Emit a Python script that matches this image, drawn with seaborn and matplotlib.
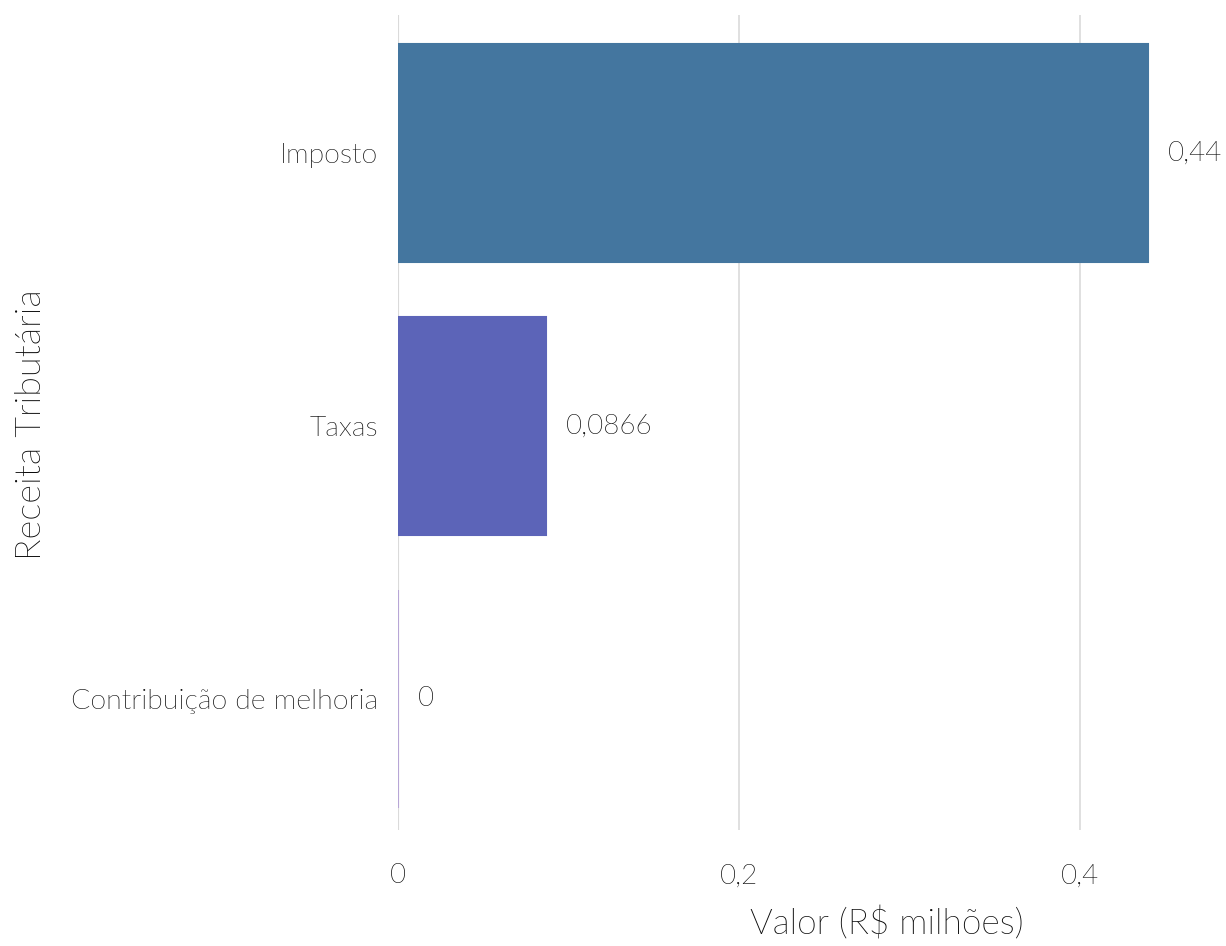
import matplotlib
matplotlib.use("Agg")
import matplotlib.pyplot as plt
from matplotlib import font_manager as fm
import seaborn as sns
import pandas as pd

# dados
categorias = ["Imposto", "Taxas", "Contribuição de melhoria"]
valores = [0.44, 0.0866, 0.0]
rotulos = ["0,44", "0,0866", "0"]
cores = ["#44769f", "#5c64b8", "#b7a6d6"]
ticks_x = [0, 0.2, 0.4]
ticks_x_txt = ["0", "0,2", "0,4"]

df = pd.DataFrame({"receita": categorias, "valor": valores})

sns.set_theme(style="white")
plt.rcParams["font.family"] = ["Lato", "DejaVu Sans"]

# procura o arquivo do Lato Light
arq_light = None
for f in fm.fontManager.ttflist:
    nome = f.fname.lower()
    if "lato" in nome and "light" in nome and "italic" not in nome:
        arq_light = f.fname
        break
if arq_light:
    fonte = fm.FontProperties(fname=arq_light)
else:
    fonte = fm.FontProperties(family="Lato", weight="normal")

def fp(tam):
    p = fonte.copy()
    p.set_size(tam)
    return p

cor_txt = "#0a0a0a"

fig = plt.figure(figsize=(12.26, 9.46), dpi=100)
ax = fig.add_axes([398 / 1226, 1 - 830 / 946, (1226 - 398) / 1226, (830 - 15) / 946])

sns.barplot(data=df, y="receita", x="valor", hue="receita", palette=cores,
            order=categorias, width=0.8, legend=False, ax=ax, saturation=1)

for p, c in zip(ax.patches, cores):
    p.set_edgecolor(c)
    p.set_linewidth(1.5)

ax.set_xlim(0, (1226 - 398) / 1705)
ax.set_ylim(2.48, -0.505)
ax.set_xticks(ticks_x)
ax.set_xticklabels(ticks_x_txt, fontproperties=fp(20), color=cor_txt)
ax.set_yticks(range(len(categorias)))
ax.set_yticklabels(categorias, fontproperties=fp(20.5), color=cor_txt)
ax.grid(axis="x", color="#dddddd", linewidth=1.3)
ax.grid(axis="y", visible=False)
ax.axvline(0, color="#c8c8c8", linewidth=1.5, zorder=0.5)
for s in ax.spines.values():
    s.set_visible(False)

ax.tick_params(axis="x", pad=24, length=0)
ax.tick_params(axis="y", pad=14, length=0)

for i, (v, t) in enumerate(zip(valores, rotulos)):
    ax.annotate(t, xy=(v, i), xytext=(20, 0), textcoords="offset pixels",
                ha="left", va="center", fontproperties=fp(20), color=cor_txt)

ax.set_xlabel("Valor (R$ milhões)", fontproperties=fp(25.5), color=cor_txt)
ax.set_ylabel("Receita Tributária", fontproperties=fp(26), color=cor_txt)
ax.xaxis.set_label_coords((887 - 398) / (1226 - 398), -0.094)
ax.yaxis.set_label_coords(-(398 - 47) / (1226 - 398), 0.497)

fig.savefig("out.png", dpi=100, facecolor="white")
